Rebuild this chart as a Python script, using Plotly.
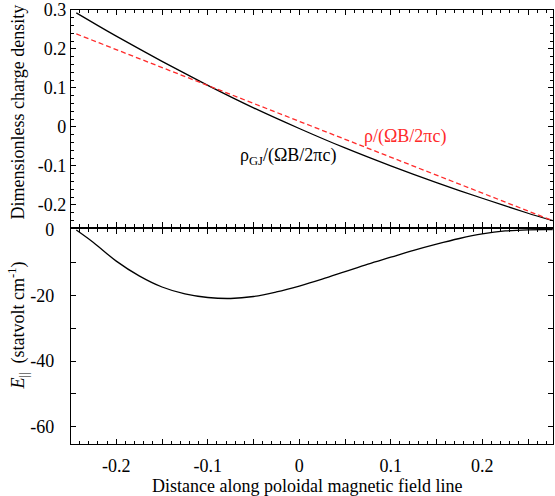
import plotly.graph_objects as go

# ---- data ----
x_top = [-0.2437, -0.22, -0.2, -0.15, -0.1, -0.05, 0.0, 0.05, 0.1, 0.15, 0.2, 0.25, 0.277]
rho_gj = [0.2925, 0.2599, 0.2329, 0.1681, 0.1068, 0.0491, -0.0040, -0.0540, -0.1000, -0.1430, -0.1830, -0.2215, -0.2406]
rho = [0.2386, 0.2168, 0.1984, 0.1524, 0.1064, 0.0603, 0.0143, -0.0317, -0.0777, -0.1237, -0.1697, -0.2158, -0.2406]

x_bot = [-0.2437, -0.225, -0.2, -0.175, -0.15, -0.125, -0.1, -0.075, -0.05, -0.025, 0.0,
         0.025, 0.05, 0.075, 0.1, 0.125, 0.15, 0.175, 0.2, 0.225, 0.25, 0.277]
e_par = [0.0, -3.8, -9.5, -14.0, -17.4, -19.5, -20.6, -20.9, -20.3, -18.9, -17.1,
         -15.0, -12.7, -10.4, -8.3, -6.2, -4.3, -2.6, -1.2, -0.3, 0.05, 0.1]

x_major = [-0.2, -0.15, -0.1, -0.05, 0.0, 0.05, 0.1, 0.15, 0.2, 0.25]
x_tickvals = [-0.2, -0.1, 0.0, 0.1, 0.2]
x_ticktext = ["-0.2", "-0.1", "0", "0.1", "0.2"]
y1_tickvals = [-0.2, -0.1, 0.0, 0.1, 0.2, 0.3]
y1_ticktext = ["-0.2", "-0.1", "0", "0.1", "0.2", "0.3"]
y2_tickvals = [-60, -40, -20, 0]
y2_ticktext = ["-60", "-40", "-20", "0"]

FONT = "Liberation Serif"
RED = "#ff2a2a"

fig = go.Figure()
fig.add_trace(go.Scatter(x=x_top, y=rho_gj, mode="lines",
                         line=dict(color="black", width=1.3, shape="spline", smoothing=0.6),
                         xaxis="x", yaxis="y", showlegend=False))
fig.add_trace(go.Scatter(x=x_top, y=rho, mode="lines", line=dict(color=RED, width=1.3, dash="5px,3px"),
                         xaxis="x", yaxis="y", showlegend=False))
fig.add_trace(go.Scatter(x=x_bot, y=e_par, mode="lines",
                         line=dict(color="black", width=1.3, shape="spline", smoothing=1.0),
                         xaxis="x2", yaxis="y2", showlegend=False))
# empty trace that carries the overlay axis with the un-labelled 0.05 ticks
fig.add_trace(go.Scatter(x=[], y=[], mode="lines", xaxis="x3", yaxis="y2", showlegend=False,
                         hoverinfo="skip"))

xr = [-0.2495, 0.2773]
minor_x = dict(ticks="inside", dtick=0.01, ticklen=3, tickcolor="black", showgrid=False)
line_kw = dict(showline=True, linecolor="black", linewidth=1.3, showgrid=False, zeroline=False,
               automargin=False)
tfont = dict(family=FONT, size=18, color="black")

fig.update_layout(
    width=555, height=496,
    margin=dict(l=71, r=2, t=10, b=52, autoexpand=False),
    plot_bgcolor="white", paper_bgcolor="white",
    font=dict(family=FONT, size=18, color="black"),
    xaxis=dict(domain=[0, 1], anchor="y", range=xr, tickvals=x_major, showticklabels=False,
               ticks="inside", ticklen=5, tickcolor="black", mirror="allticks", minor=minor_x, **line_kw),
    xaxis2=dict(domain=[0, 1], anchor="y2", range=xr, tickvals=x_tickvals, ticktext=x_ticktext,
                ticklabelstandoff=5, tickfont=tfont,
                ticks="inside", ticklen=5, tickcolor="black", mirror="allticks", minor=minor_x, **line_kw),
    xaxis3=dict(overlaying="x2", anchor="y2", range=xr, tickvals=x_major, showticklabels=False,
                ticks="inside", ticklen=5, tickcolor="black", mirror="ticks", side="bottom",
                showline=False, showgrid=False, zeroline=False, automargin=False),
    yaxis=dict(domain=[0.5007, 1], anchor="x", range=[-0.256, 0.3], tickvals=y1_tickvals,
               ticktext=y1_ticktext, ticklabelstandoff=0, tickfont=tfont,
               ticks="inside", ticklen=5, tickcolor="black", mirror="allticks",
               minor=dict(ticks="inside", dtick=0.02, ticklen=3, tickcolor="black", showgrid=False),
               **line_kw),
    yaxis2=dict(domain=[0, 0.4954], anchor="x2", range=[-65.3, 0.3], tickvals=y2_tickvals,
                ticktext=y2_ticktext, ticklabelstandoff=12, tickfont=tfont,
                ticks="inside", ticklen=5, tickcolor="black", mirror="allticks",
                minor=dict(ticks="inside", dtick=10, ticklen=3, tickcolor="black", showgrid=False),
                **line_kw),
    annotations=[
        dict(text="Dimensionless charge density", xref="paper", yref="paper", x=-0.111, y=0.765,
             textangle=-90, showarrow=False, xanchor="center", yanchor="middle",
             font=dict(family=FONT, size=18, color="black")),
        dict(text="<i>E</i><sub>||</sub>  (statvolt cm<sup>-1</sup>)", xref="paper", yref="paper",
             x=-0.111, y=0.274, textangle=-90, showarrow=False, xanchor="center", yanchor="middle",
             font=dict(family=FONT, size=18, color="black")),
        dict(text="Distance along poloidal magnetic field line", xref="paper", yref="paper",
             x=0.49, y=-0.0975, showarrow=False, xanchor="center", yanchor="middle",
             font=dict(family=FONT, size=18, color="black")),
        dict(text="ρ<sub>GJ</sub>/(ΩB/2πc)", xref="x", yref="y", x=-0.0125, y=-0.077,
             showarrow=False, xanchor="center", yanchor="middle",
             font=dict(family=FONT, size=18, color="black")),
        dict(text="ρ/(ΩB/2πc)", xref="x", yref="y", x=0.115, y=-0.025,
             showarrow=False, xanchor="center", yanchor="middle",
             font=dict(family=FONT, size=18, color=RED)),
    ],
)

fig.write_html("out.html", config={"displayModeBar": False},
               post_script="document.body.style.margin='0';")
